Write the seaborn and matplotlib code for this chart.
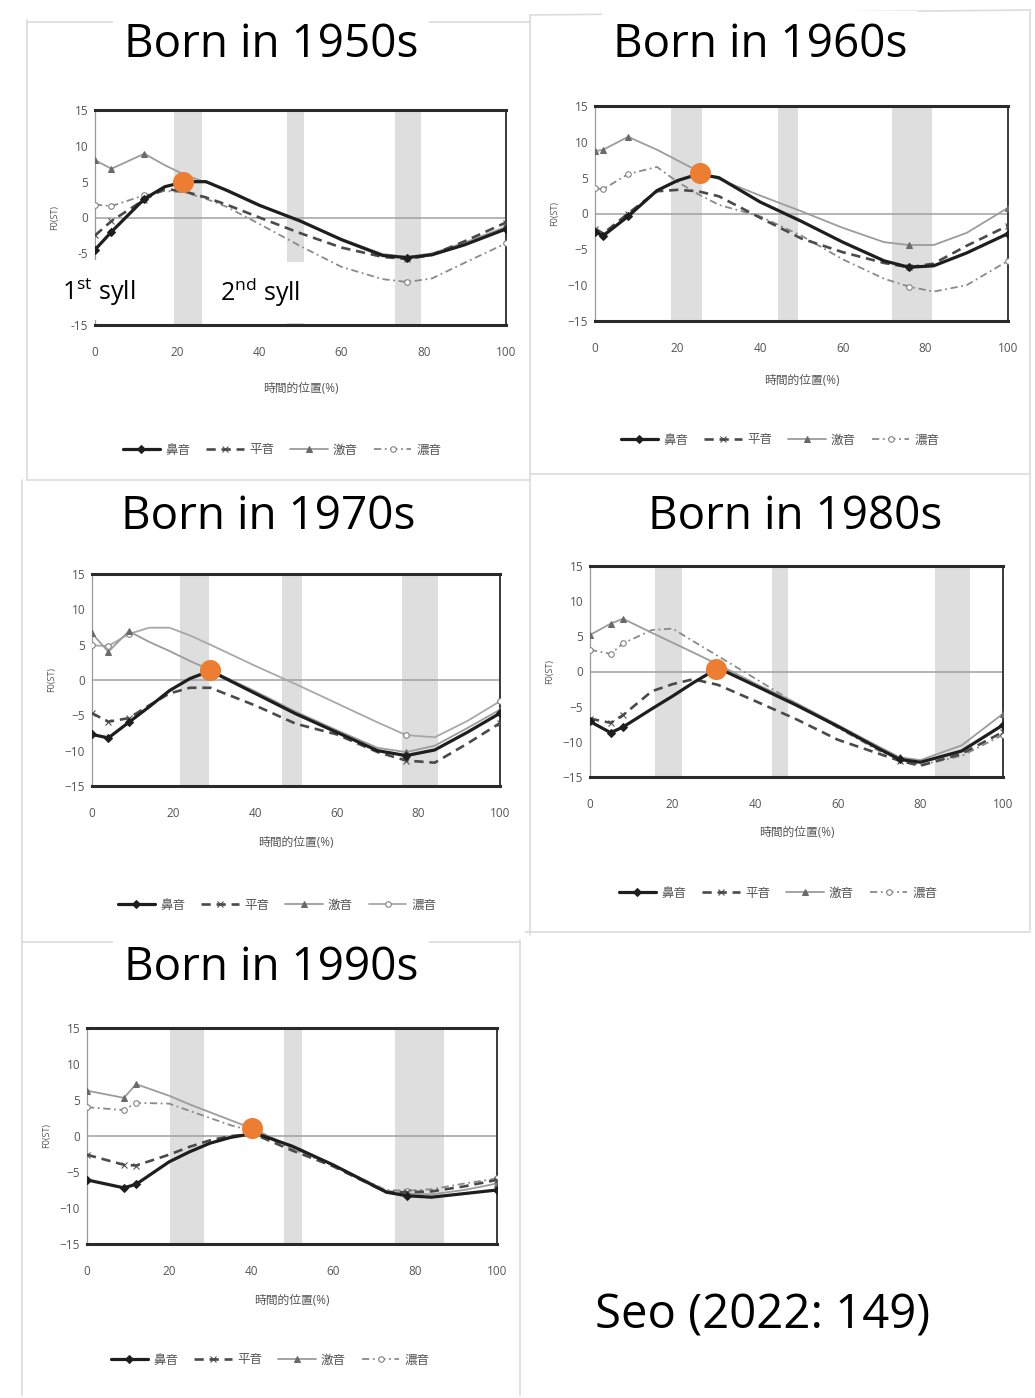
import matplotlib
matplotlib.use("Agg")
import matplotlib.pyplot as plt
from matplotlib.patches import Rectangle
from matplotlib.lines import Line2D
import seaborn as sns
import pandas as pd

# ---------------- data ----------------
CATS = ["鼻音", "平音", "激音", "濃音"]
TITLES = ["Born in 1950s", "Born in 1960s", "Born in 1970s", "Born in 1980s", "Born in 1990s"]
XTICKS = [0, 20, 40, 60, 80, 100]
YTICKS = [15, 10, 5, 0, -5, -10, -15]

X50 = [0, 4, 12, 17, 22, 27, 32, 40, 50, 60, 70, 76, 82, 90, 100]
N50 = [-4.5, -2.0, 2.6, 4.3, 5.0, 5.0, 3.8, 1.7, -0.5, -3.1, -5.3, -5.6, -5.2, -3.8, -1.6]
L50 = [-2.5, -0.5, 2.5, 4.0, 3.6, 2.8, 1.8, 0.0, -2.2, -4.2, -5.5, -5.8, -5.2, -3.3, -0.7]
A50 = [8.0, 6.8, 8.9, 7.3, 5.9, 4.9, 3.9, 1.8, -0.6, -3.0, -5.1, -5.5, -5.0, -3.5, -1.3]
T50 = [1.8, 1.6, 3.1, 3.7, 3.5, 2.6, 1.5, -0.9, -4.0, -6.9, -8.6, -9.0, -8.5, -6.3, -3.6]

X60 = [0, 2, 8, 15, 20, 25, 30, 40, 50, 60, 70, 76, 82, 90, 100]
N60 = [-2.6, -3.1, -0.4, 3.2, 4.6, 5.5, 5.0, 1.6, -1.1, -4.0, -6.6, -7.5, -7.3, -5.5, -2.8]
L60 = [-2.1, -2.8, 0.0, 3.1, 3.3, 3.1, 2.4, -0.6, -3.5, -5.4, -6.9, -7.5, -7.0, -4.5, -1.7]
A60 = [8.7, 8.9, 10.7, 8.9, 7.4, 5.9, 4.8, 2.5, 0.3, -2.0, -4.0, -4.4, -4.4, -2.7, 0.8]
T60 = [3.5, 3.4, 5.5, 6.5, 4.4, 2.7, 1.2, -0.4, -3.1, -6.4, -9.1, -10.2, -10.9, -10.0, -6.6]

X70 = [0, 4, 9, 14, 19, 24, 29, 40, 50, 60, 70, 77, 84, 92, 100]
N70 = [-7.7, -8.2, -6.0, -3.8, -1.5, 0.2, 1.3, -1.9, -4.8, -7.4, -10.0, -10.7, -9.9, -7.4, -4.7]
L70 = [-4.7, -5.9, -5.4, -3.6, -1.9, -1.1, -1.1, -3.6, -6.2, -7.7, -10.2, -11.4, -11.7, -9.0, -6.1]
A70 = [6.6, 4.0, 6.9, 5.4, 4.1, 2.7, 1.4, -1.6, -4.5, -7.1, -9.6, -10.2, -9.3, -6.8, -4.2]
T70 = [4.9, 4.8, 6.5, 7.4, 7.4, 6.3, 5.0, 2.0, -0.6, -3.3, -6.0, -7.8, -8.1, -5.8, -3.0]

X80 = [0, 5, 8, 15, 20, 25, 31, 40, 50, 60, 70, 75, 80, 90, 100]
N80 = [-7.1, -8.7, -7.9, -5.3, -3.5, -1.6, 0.5, -2.0, -4.8, -7.8, -11.0, -12.5, -12.9, -11.3, -7.6]
L80 = [-6.7, -7.3, -6.2, -2.8, -1.8, -1.1, -1.9, -4.2, -6.8, -9.7, -11.7, -12.7, -13.4, -11.7, -8.6]
A80 = [5.2, 6.8, 7.5, 5.5, 4.1, 2.7, 1.0, -1.7, -4.5, -7.6, -10.7, -12.2, -12.6, -10.5, -6.0]
T80 = [3.1, 2.5, 4.0, 5.9, 6.1, 4.3, 2.2, -1.0, -4.6, -8.0, -11.3, -12.5, -13.3, -12.0, -9.0]

X90 = [0, 9, 12, 20, 25, 30, 35, 41, 50, 60, 73, 78, 84, 92, 100]
N90 = [-6.1, -7.2, -6.7, -3.6, -2.2, -1.0, -0.2, 0.4, -1.4, -4.0, -7.8, -8.3, -8.5, -8.0, -7.5]
L90 = [-2.6, -4.0, -4.1, -2.6, -1.5, -0.6, 0.0, 0.2, -2.0, -4.2, -7.8, -7.8, -7.7, -7.0, -6.1]
A90 = [6.3, 5.3, 7.2, 5.6, 4.4, 3.3, 2.2, 0.9, -1.6, -4.0, -7.6, -8.0, -8.1, -7.5, -6.6]
T90 = [4.0, 3.6, 4.6, 4.5, 3.5, 2.5, 1.5, 0.6, -1.8, -4.1, -7.5, -7.6, -7.4, -6.6, -5.9]

BANDS50 = [(19.1, 26.0), (46.7, 50.8), (73.0, 79.3)]
BANDS60 = [(18.5, 25.8), (44.4, 49.2), (72.0, 81.5)]
BANDS70 = [(21.6, 28.6), (46.5, 51.4), (75.9, 84.9)]
BANDS80 = [(15.7, 22.2), (44.0, 48.0), (83.5, 92.0)]
BANDS90 = [(20.3, 28.5), (48.0, 52.4), (75.2, 87.0)]

PEAK_X = [21.5, 25.4, 29.0, 30.6, 40.2]
PEAK_Y = [5.0, 5.6, 1.4, 0.3, 1.1]

PANELS = [
    (X50, [N50, L50, A50, T50], BANDS50),
    (X60, [N60, L60, A60, T60], BANDS60),
    (X70, [N70, L70, A70, T70], BANDS70),
    (X80, [N80, L80, A80, T80], BANDS80),
    (X90, [N90, L90, A90, T90], BANDS90),
]

# ---------------- layout (pixels) ----------------
W, H = 1035, 1398
# left, right, top, bottom, title centre (x, y), legend centre (x, y), xlabel y
BOX = [
    (95, 506, 110, 325, (271, 45), (282, 450), 388),
    (595, 1008, 106, 321, (760, 45), (780, 440), 380),
    (92, 500, 574, 786, (268, 517), (277, 905), 843),
    (590, 1003, 566, 777, (795, 517), (778, 893), 833),
    (87, 497, 1028, 1244, (271, 968), (270, 1360), 1300),
]

sns.set_theme(style="white")
plt.rcParams["font.family"] = ["Open Sans", "Noto Sans CJK JP", "DejaVu Sans"]
plt.rcParams["mathtext.fontset"] = "custom"
plt.rcParams["mathtext.rm"] = "Open Sans"
plt.rcParams["mathtext.it"] = "Open Sans"

fig = plt.figure(figsize=(W / 100, H / 100), dpi=100)
fig.patch.set_facecolor("white")

def fx(px):
    return px / W

def fy(py):
    return 1 - py / H

# faint scan borders
border_col = "#dcdcdc"
for (x0, y0, x1, y1) in [(27, 20, 27, 480), (530, 15, 530, 935), (1030, 10, 1030, 930),
                         (22, 480, 22, 1395), (520, 940, 520, 1395),
                         (27, 480, 530, 480), (530, 474, 1030, 474),
                         (22, 942, 520, 942), (525, 932, 1030, 932),
                         (27, 22, 530, 22), (530, 15, 1030, 10)]:
    fig.add_artist(Line2D([fx(x0), fx(x1)], [fy(y0), fy(y1)], color=border_col, lw=1.2,
                          transform=fig.transFigure, zorder=0))

styles = [
    dict(color="#1e1e1e", lw=2.3, linestyle="-", marker="D", markersize=4.5,
         markerfacecolor="#1e1e1e", markeredgecolor="#1e1e1e"),
    dict(color="#4a4a4a", lw=1.9, linestyle=(0, (3.5, 2.2)), marker="x", markersize=4,
         markerfacecolor="#4a4a4a", markeredgecolor="#4a4a4a"),
    dict(color="#9c9c9c", lw=1.3, linestyle="-", marker="^", markersize=4.5,
         markerfacecolor="#6a6a6a", markeredgecolor="#6a6a6a"),
    dict(color="#8a8a8a", lw=1.3, linestyle=(0, (4, 2, 1, 2)), marker="o", markersize=4,
         markerfacecolor="white", markeredgecolor="#7a7a7a"),
]

for i, (X, series, bands) in enumerate(PANELS):
    l, r, t, b, tpos, lpos, xly = BOX[i]
    ax = fig.add_axes([fx(l), fy(b), (r - l) / W, (b - t) / H])
    ax.set_facecolor("white")
    for (b0, b1) in bands:
        ax.axvspan(b0, b1, color="#dedede", lw=0, zorder=0)
    ax.axhline(0, color="#a0a0a0", lw=1.1, zorder=1)
    for k, (cat, vals) in enumerate(zip(CATS, series)):
        st = dict(styles[k])
        if i == 2 and k == 3:
            st["linestyle"] = "-"
            st["color"] = "#a8a8a8"
        df = pd.DataFrame({"x": X, "y": vals})
        sns.lineplot(data=df, x="x", y="y", ax=ax, errorbar=None, label=cat,
                     markevery=[0, 1, 2, 11, 14], zorder=3 + (3 - k), **st)
    ax.scatter([PEAK_X[i]], [PEAK_Y[i]], s=230, color="#ED7D31", zorder=10, linewidths=0)
    ax.set_xlim(0, 100)
    ax.set_ylim(-15, 15)
    ax.set_xticks(XTICKS)
    ax.set_yticks(YTICKS)
    if i == 0:
        # the "1st syll" box hides the -10 label in the reference
        ax.set_yticklabels(["" if v == -10 else f"{v}" for v in YTICKS])
    ax.tick_params(axis="both", length=0, labelsize=8.5, labelcolor="#555555")
    ax.tick_params(axis="x", pad=15)
    ax.tick_params(axis="y", pad=5)
    ax.set_xlabel("")
    ax.set_ylabel("")
    for s in ["top", "bottom"]:
        ax.spines[s].set_linewidth(2.2)
        ax.spines[s].set_color("#2a2a2a")
    ax.spines["right"].set_linewidth(1.4)
    ax.spines["right"].set_color("#3a3a3a")
    ax.spines["left"].set_linewidth(0.9)
    ax.spines["left"].set_color("#9a9a9a")
    ax.grid(False)
    wpx, hpx = r - l, b - t
    ax.text(0.5, -(xly - b) / hpx, "時間的位置(%)", transform=ax.transAxes,
            ha="center", va="center", fontsize=8.5, color="#555555")
    ax.text(-40 / wpx, 0.5, "F0(ST)", transform=ax.transAxes, rotation=90,
            ha="center", va="center", fontsize=6.5, color="#555555")
    leg = ax.legend(loc="center", bbox_to_anchor=((lpos[0] - l) / wpx, 1 - (lpos[1] - t) / hpx),
                    ncol=4, frameon=False, fontsize=9, handlelength=3.0,
                    columnspacing=1.3, handletextpad=0.4)
    for txt in leg.get_texts():
        txt.set_color("#555555")
    fig.text(fx(tpos[0]), fy(tpos[1]), TITLES[i], ha="center", va="center",
             fontsize=33, color="black", zorder=20,
             bbox=dict(facecolor="white", edgecolor="none", pad=8))

# syllable labels with white boxes (panel 1)
for (x0, y0, x1, y1) in [(40, 260, 170, 320), (210, 262, 330, 323)]:
    fig.add_artist(Rectangle((fx(x0), fy(y1)), (x1 - x0) / W, (y1 - y0) / H,
                             transform=fig.transFigure, facecolor="white",
                             edgecolor="none", zorder=15))
fig.text(fx(62), fy(292), r"1$^{\rm st}$ syll", ha="left", va="center", fontsize=18,
         color="black", zorder=20)
fig.text(fx(220), fy(292), r"2$^{\rm nd}$ syll", ha="left", va="center", fontsize=18,
         color="black", zorder=20)

fig.text(fx(595), fy(1316), "Seo (2022: 149)", ha="left", va="center", fontsize=34,
         color="black", zorder=20)

fig.savefig("out.png", dpi=100, facecolor="white")
